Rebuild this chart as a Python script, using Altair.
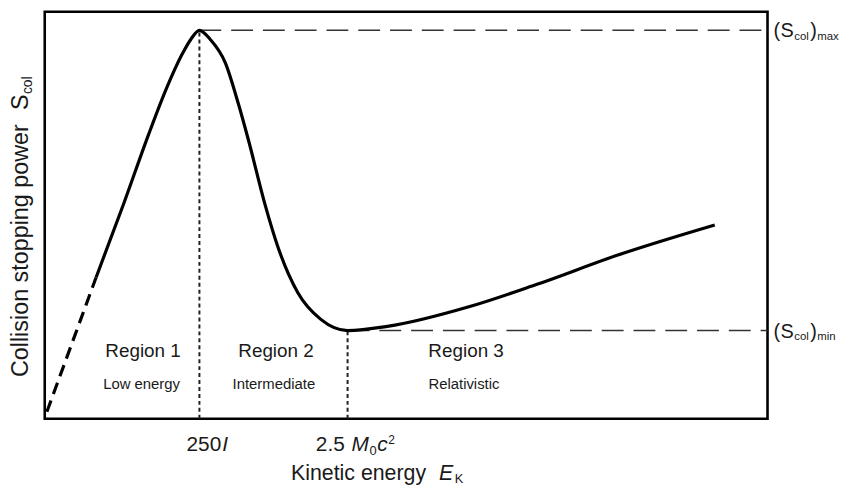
import altair as alt
import pandas as pd

# ---------------- data (arbitrary units: x 0-100 energy axis, y 0-100 stopping power) -------------
curve_x = [7.1, 11.0, 14.4, 16.8, 19.0, 20.2, 21.4, 22.9, 25.0, 26.8, 28.2, 30.5, 32.3, 35.0,
           38.2, 41.9, 47.4, 58.8, 68.0, 79.4, 92.7]
curve_y = [34.1, 52.3, 68.8, 79.6, 88.0, 91.6, 93.8, 91.6, 85.9, 76.0, 67.2, 51.6, 41.3, 30.5,
           24.0, 21.3, 22.3, 27.1, 32.4, 39.6, 46.8]
low_x = [0.3, 7.1]          # dashed extrapolation toward zero energy
low_y = [1.7, 34.1]

peak_x, peak_y = 21.4, 93.8  # 250 I, (S_col)_max
min_x, min_y = 41.9, 21.3    # 2.5 M0c^2, (S_col)_min
x_end = 100

region_x = [13.6, 32.0, 58.3]
region_names = ["Region 1", "Region 2", "Region 3"]
region_desc_x = [13.4, 31.7, 58.0]
region_desc = ["Low energy", "Intermediate", "Relativistic"]
region_name_y = 16.3
region_desc_y = 8.4

FONT = "Liberation Sans"
INK = "#1a1a1a"

xs = alt.Scale(domain=[0, 100], nice=False, zero=False)
ys = alt.Scale(domain=[0, 98.3], nice=False, zero=False)


def label(text, x, y, dx=0, dy=0, size=20, italic=False, align="left",
          baseline="alphabetic", angle=None):
    df = pd.DataFrame({"x": [x], "y": [y], "t": [text]})
    kw = dict(dx=dx, dy=dy, fontSize=size, align=align, baseline=baseline,
              font=FONT, color=INK)
    if italic:
        kw["fontStyle"] = "italic"
    if angle is not None:
        kw["angle"] = angle
    return alt.Chart(df).mark_text(**kw).encode(
        x=alt.X("x:Q", scale=xs, axis=None),
        y=alt.Y("y:Q", scale=ys, axis=None),
        text="t:N",
    )


curve_df = pd.DataFrame({"x": curve_x, "y": curve_y, "i": range(len(curve_x))})
low_df = pd.DataFrame({"x": low_x, "y": low_y, "i": range(len(low_x))})

curve = alt.Chart(curve_df).mark_line(
    interpolate="monotone", color="black", strokeWidth=3.2
).encode(
    x=alt.X("x:Q", scale=xs, axis=None),
    y=alt.Y("y:Q", scale=ys, axis=None),
    order="i:Q",
)
low = alt.Chart(low_df).mark_line(
    color="black", strokeWidth=3.2, strokeDash=[12, 7]
).encode(
    x=alt.X("x:Q", scale=xs, axis=None),
    y=alt.Y("y:Q", scale=ys, axis=None),
    order="i:Q",
)

hdf = pd.DataFrame({"x": [peak_x, min_x], "x2": [x_end, x_end], "y": [peak_y, min_y]})
hlines = alt.Chart(hdf).mark_rule(color="#333333", strokeWidth=1.5, strokeDash=[22, 10]).encode(
    x=alt.X("x:Q", scale=xs, axis=None), x2="x2:Q",
    y=alt.Y("y:Q", scale=ys, axis=None),
)
vdf = pd.DataFrame({"x": [peak_x, min_x], "y": [0, 0], "y2": [peak_y, min_y]})
vlines = alt.Chart(vdf).mark_rule(color="#222222", strokeWidth=2, strokeDash=[4, 3]).encode(
    x=alt.X("x:Q", scale=xs, axis=None),
    y=alt.Y("y:Q", scale=ys, axis=None), y2="y2:Q",
)

layers = [hlines, vlines, low, curve]

# region labels
for rx, name in zip(region_x, region_names):
    layers.append(label(name, rx, region_name_y, size=19, align="center", baseline="middle"))
for rx, desc in zip(region_desc_x, region_desc):
    layers.append(label(desc, rx, region_desc_y, size=15, align="center", baseline="middle"))

# x tick labels
layers += [
    label("250", peak_x, 0, dx=22, dy=32, size=21, align="right"),
    label("I", peak_x, 0, dx=23, dy=32, size=21, italic=True),
    label("2.5", min_x, 0, dx=-32, dy=32, size=21),
    label("M", min_x, 0, dx=4, dy=32, size=21, italic=True),
    label("0", min_x, 0, dx=22, dy=36, size=13),
    label("c", min_x, 0, dx=30, dy=32, size=21, italic=True),
    label("2", min_x, 0, dx=41, dy=25, size=12),
]

# x axis title
layers += [
    label("Kinetic energy", 0, 0, dx=248, dy=62, size=21.5),
    label("E", 0, 0, dx=397, dy=62, size=21.5, italic=True),
    label("K", 0, 0, dx=413, dy=65, size=13),
]

# y axis title (rotated)
layers += [
    label("Collision stopping power", 0, 0, dx=42, dy=-17, size=23.5, angle=270),
    label("S", 0, 0, dx=311, dy=-17, size=23.5, angle=270),
    label("col", 0, 0, dx=327, dy=-13, size=14, angle=270),
]

# right-hand labels
for yv, sub in [(peak_y, "max"), (min_y, "min")]:
    layers += [
        label("(", x_end, yv, dx=6, dy=7, size=20),
        label("S", x_end, yv, dx=13, dy=7, size=20),
        label("col", x_end, yv, dx=27, dy=10, size=11.5),
        label(")", x_end, yv, dx=43, dy=7, size=20),
        label(sub, x_end, yv, dx=50, dy=10, size=11.5),
    ]

chart = alt.layer(*layers).properties(
    width=728,
    height=410,
    autosize=alt.AutoSizeParams(type="none"),
    padding={"left": 37, "top": 2, "right": 72, "bottom": 67},
).configure_view(
    stroke="black", strokeWidth=2.6
)

chart.save("out.html", embed_options={"renderer": "svg", "actions": False})
